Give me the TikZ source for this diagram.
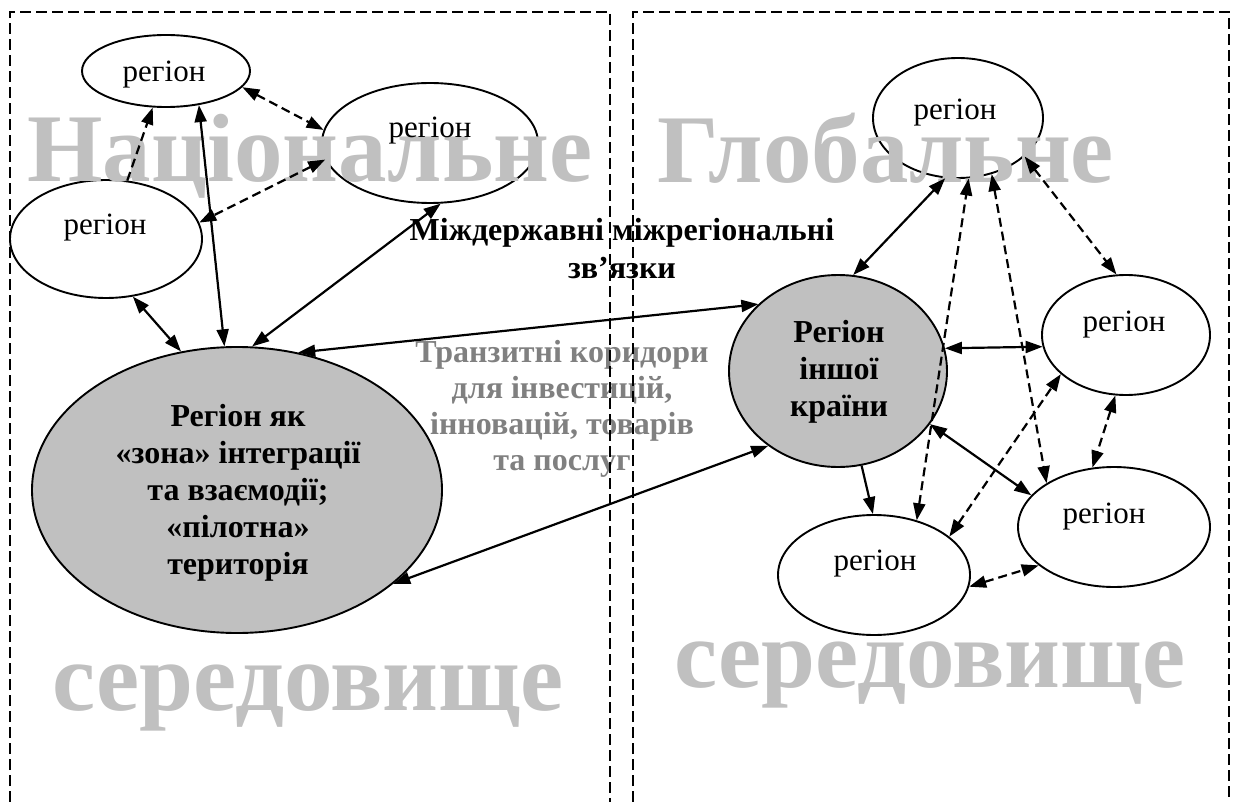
\documentclass[tikz,border=0pt]{standalone}
\usepackage{fontspec}
\setmainfont{Liberation Serif}
\usetikzlibrary{arrows.meta,shapes.geometric}
\definecolor{wm}{HTML}{C0C0C0}
\definecolor{tg}{HTML}{808080}
\begin{document}
\begin{tikzpicture}[x=1pt,y=-1pt,
  reg/.style={ellipse, draw=black, line width=1.9pt, fill=white, inner sep=0pt},
  hub/.style={reg, fill=wm},
  lbl/.style={font=\fontsize{31}{31}\selectfont, anchor=base, inner sep=0pt},
  blbl/.style={font=\fontsize{32}{37}\selectfont\bfseries, align=center, anchor=base, inner sep=0pt},
  wmark/.style={font=\fontsize{97}{97}\selectfont\bfseries, text=wm, anchor=base, inner sep=0pt},
  wtip/.tip={Triangle[length=17pt,width=12pt]},
  link/.style={line width=2.2pt, wtip-wtip},
  linkone/.style={line width=2.2pt, -wtip},
  dlink/.style={link, dash pattern=on 9pt off 5pt},
  dlinkone/.style={linkone, dash pattern=on 9pt off 5pt},
  frame/.style={line width=1.3pt, dash pattern=on 11pt off 5pt}]
\useasboundingbox (0,0) rectangle (1236,802);
% ellipses
\node[reg, minimum width=168pt, minimum height=72pt] (tl) at (166,71) {};
\node[reg, minimum width=216pt, minimum height=120pt] (tm) at (430,143) {};
\node[reg, minimum width=192pt, minimum height=118pt] (l) at (106,239) {};
\node[hub, minimum width=410pt, minimum height=286pt] (big) at (237,490) {};
\node[reg, minimum width=170pt, minimum height=120pt] (tr) at (958,118) {};
\node[hub, minimum width=218pt, minimum height=192pt] (c) at (838,371) {};
\node[reg, minimum width=168pt, minimum height=120pt] (rm) at (1126,335) {};
\node[reg, minimum width=192pt, minimum height=120pt] (br) at (1114,527) {};
\node[reg, minimum width=192pt, minimum height=120pt] (bm) at (874,575) {};
% watermark
\node[wmark] (w1) at (310,182) {Національне};
\node[wmark] (w2) at (886,183) {Глобальне};
\node[wmark] (w3) at (308,710) {середовище};
\node[wmark] (w4) at (930,687) {середовище};
% labels
\node[lbl] (tlt) at (164,82) {регіон};
\node[lbl] (tmt) at (430,138) {регіон};
\node[lbl] (lt) at (105,235) {регіон};
\node[lbl] (trt) at (955,120) {регіон};
\node[lbl] (rmt) at (1124,331) {регіон};
\node[lbl] (brt) at (1104,523) {регіон};
\node[lbl] (bmt) at (875,570) {регіон};
\node[blbl] (bigt) at (238,574) {Регіон як\\«зона» інтеграції\\та взаємодії;\\«пілотна»\\територія};
\node[blbl] (ct) at (839,416) {Регіон\\іншої\\країни};
% connectors
\draw[dlinkone] (l.70) -- (tl.250);
\draw[dlink] (tl.348) -- (tm.173);
\draw[dlink] (tm.189) -- (l.10);
\draw[link] (tl.314) -- (big.95);
\draw[link] (l.295) -- (big.112);
\draw[link] (big.84) -- (tm.280);
\draw[link] (big.66) -- (c.140);
\draw[link] (big.329) -- (c.227);
\draw[link] (c.81) -- (tr.258);
\draw[dlink] (bm.52) -- (tr.280);
\draw[dlink] (tr.301) -- (br.147);
\draw[dlink] (tr.330) -- (rm.99);
\draw[link] (c.12) -- (rm.188);
\draw[link] (c.330) -- (br.159);
\draw[linkone] (c.284) -- (bm.91);
\draw[dlink] (bm.27) -- (rm.211);
\draw[dlink] (rm.260) -- (br.110);
\draw[dlink] (bm.353) -- (br.207);
% middle texts
\node[blbl] (mt) at (622,278) {Міждержавні міжрегіональні\\зв’язки};
\node[blbl, text=tg, font=\fontsize{32}{36}\selectfont\bfseries] (tt) at (562,470) {Транзитні коридори\\для інвестицій,\\інновацій, товарів\\та послуг};
% frames
\draw[frame] (10,802) -- (10,12) -- (610,12) -- (610,802);
\draw[frame] (633,802) -- (633,12) -- (1229,12) -- (1229,802);
\end{tikzpicture}
\end{document}
